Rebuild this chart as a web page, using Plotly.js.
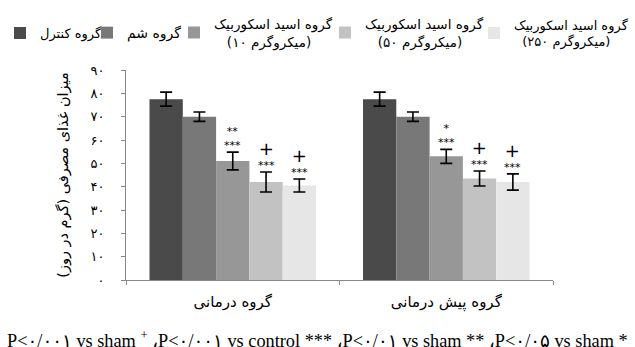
<!DOCTYPE html>
<html><head><meta charset="utf-8">
<script src="https://cdn.plot.ly/plotly-3.0.1.min.js"></script>
<style>body{margin:0;background:#fff}#c{width:635px;height:347px}</style>
</head><body><div id="c"></div>
<script>
const RLM = '\u200F', NB = '\u00A0', LRI = '\u2066', PDI = '\u2069';
const categories = ['گروه درمانی', 'گروه پیش درمانی'];
const seriesNames = ['گروه کنترل', 'گروه شم',
  'گروه اسید اسکوربیک<br>' + NB + NB + NB + LRI + '(۱۰ میکروگرم)' + PDI,
  'گروه اسید اسکوربیک<br>' + NB + NB + NB + LRI + '(۵۰ میکروگرم)' + PDI,
  'گروه اسید اسکوربیک<br>' + NB + NB + LRI + '(۲۵۰ میکروگرم)' + PDI];
const control = [77.5, 77.5];
const controlErr = [3, 3];
const sham = [70, 70];
const shamErr = [2, 2];
const aa10 = [51, 53];
const aa10Err = [3.8, 3];
const aa50 = [42, 43.5];
const aa50Err = [4.3, 3.2];
const aa250 = [40.5, 42];
const aa250Err = [2.8, 3.5];
const sigControl = ['', ''];
const sigSham = ['', ''];
const sigAa10 = ['**<br>***', '*<br>***'];
const sigAa50 = ['+<br>***', '+<br>***'];
const sigAa250 = ['+<br>***', '+<br>***'];
const yTickVals = [0, 10, 20, 30, 40, 50, 60, 70, 80, 90];
const yTickText = ['۰', '۱۰', '۲۰', '۳۰', '۴۰', '۵۰', '۶۰', '۷۰', '۸۰', '۹۰'];
const yTitle = 'میزان غذای مصرفی (گرم در روز)' + RLM;
const footnote = 'P<۰/۰۰۱ vs sham <sup>+</sup> ،P<۰/۰۰۱ vs control *** ،P<۰/۰۱ vs sham ** ،P<۰/۰۵ vs sham *';

const values = [control, sham, aa10, aa50, aa250];
const errs = [controlErr, shamErr, aa10Err, aa50Err, aa250Err];
const sigs = [sigControl, sigSham, sigAa10, sigAa50, sigAa250];
const colors = ['#4a4a4a', '#787878', '#979797', '#c2c2c2', '#e6e6e6'];
const legendX = [-0.2951, -0.0913, 0.1124, 0.4660, 0.8150];
const legendFontSize = [13, 14, 13.5, 13.5, 13];
const legendIds = ['legend', 'legend2', 'legend3', 'legend4', 'legend5'];
const bargap = 0.22;
const nS = values.length;

const traces = values.map((v, i) => ({
  type: 'bar', x: categories, y: v, name: seriesNames[i],
  legend: legendIds[i],
  marker: {color: colors[i]},
  error_y: {type: 'data', array: errs[i], visible: true, color: '#000', thickness: 1.6, width: 6}
}));

const annotations = [];
sigs.forEach((s, i) => {
  s.forEach((t, c) => {
    if (!t) return;
    annotations.push({
      xref: 'x', yref: 'y', x: c + (i - (nS - 1) / 2) * (1 - bargap) / nS,
      y: values[i][c] + errs[i][c], yanchor: 'bottom', showarrow: false,
      text: t.replace('+', "<span style='font-size:18px'>+</span>"),
      font: {family: 'DejaVu Sans', size: 11, color: '#000'}, yshift: -2
    });
  });
});
annotations.push({
  xref: 'paper', yref: 'paper', x: 0.449, y: -0.283, xanchor: 'center', yanchor: 'middle',
  showarrow: false, text: footnote,
  font: {family: 'Liberation Serif, DejaVu Sans', size: 18.3, color: '#000'}
});

const layout = {
  width: 635, height: 347,
  margin: {l: 126, r: 82, t: 70, b: 67, autoexpand: false},
  paper_bgcolor: '#fff', plot_bgcolor: '#fff',
  barmode: 'group', bargap: bargap, bargroupgap: 0,
  font: {family: 'Liberation Serif, DejaVu Sans', color: '#000'},
  xaxis: {
    type: 'category', showline: true, linecolor: '#888', linewidth: 1,
    ticks: 'outside', tickson: 'boundaries', ticklen: 4, tickcolor: '#888',
    ticklabelstandoff: 8,
    tickfont: {size: 15, family: 'DejaVu Sans'}, showgrid: false, zeroline: false
  },
  yaxis: {
    range: [0, 90], tickvals: yTickVals, ticktext: yTickText,
    showline: true, linecolor: '#888', linewidth: 1, ticks: 'outside', ticklen: 4, tickcolor: '#888',
    ticklabelstandoff: 14, tickfont: {size: 13, family: 'DejaVu Sans'},
    showgrid: false, zeroline: false,
    title: {text: yTitle, font: {size: 14.5, family: 'DejaVu Sans'}, standoff: 18}
  },
  showlegend: true,
  annotations: annotations
};
legendIds.forEach((id, i) => {
  layout[id] = {
    orientation: 'h', x: legendX[i], xanchor: 'left', y: 1.176, yanchor: 'middle',
    valign: 'middle', bgcolor: 'rgba(0,0,0,0)',
    font: {size: legendFontSize[i], family: 'DejaVu Sans'}, itemclick: false
  };
});
Plotly.newPlot('c', traces, layout, {displayModeBar: false, staticPlot: true});
</script></body></html>
